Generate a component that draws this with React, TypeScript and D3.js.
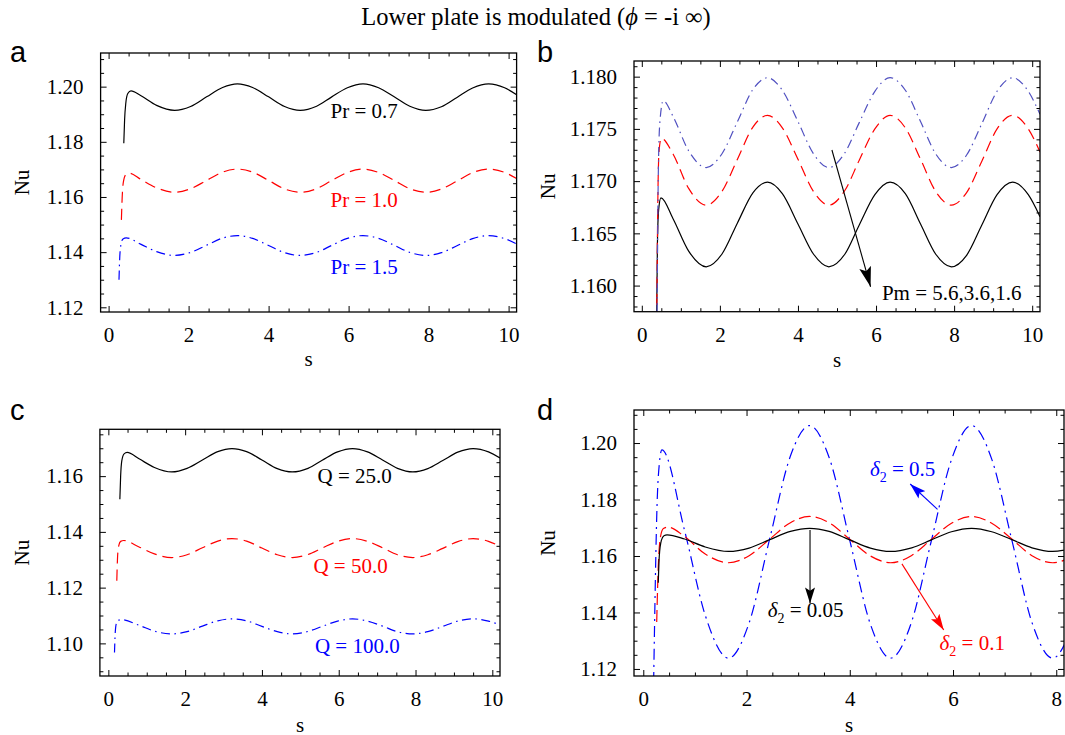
import React, {useEffect, useRef} from 'react';
import * as d3 from 'd3';

const SERIF = "'Liberation Serif', 'Times New Roman', Tinos, 'DejaVu Serif', serif";
const SANS = "'Liberation Sans', Arial, Helvetica, sans-serif";

// s positions shared by every curve once the start-up transient is over
const S_GRID = [0.8, 1.2, 1.65, 2.05, 2.45, 2.85, 3.22, 3.6, 4.0, 4.4, 4.79, 5.2, 5.57, 5.97, 6.36, 6.75, 7.14, 7.53, 7.93, 8.32, 8.71, 9.1, 9.5, 9.9, 10.2];

const X_TICKS_10 = [0, 2, 4, 6, 8, 10];
const X_TICKS_8 = [0, 2, 4, 6, 8];

// ---- panel a : Pr
const A_Y_TICKS = [1.12, 1.14, 1.16, 1.18, 1.20];
const A_PR07_HEAD_S = [0.38, 0.40, 0.43, 0.48, 0.56];
const A_PR07_HEAD_NU = [1.1795, 1.1880, 1.1940, 1.1975, 1.1985];
const A_PR07_NU = [1.1968, 1.1932, 1.1914, 1.1928, 1.1963, 1.1997, 1.2010, 1.1997, 1.1963, 1.1928, 1.1914, 1.1929, 1.1962, 1.1996, 1.2010, 1.1996, 1.1963, 1.1929, 1.1914, 1.1927, 1.1961, 1.1995, 1.2010, 1.1996, 1.1971];
const A_PR10_HEAD_S = [0.32, 0.34, 0.37, 0.43, 0.52];
const A_PR10_HEAD_NU = [1.1517, 1.1600, 1.1655, 1.1681, 1.1686];
const A_PR10_NU = [1.1664, 1.1633, 1.1617, 1.1630, 1.1660, 1.1690, 1.1701, 1.1690, 1.1660, 1.1629, 1.1617, 1.1630, 1.1659, 1.1689, 1.1701, 1.1689, 1.1660, 1.1630, 1.1617, 1.1629, 1.1658, 1.1688, 1.1701, 1.1689, 1.1667];
const A_PR15_HEAD_S = [0.26, 0.28, 0.31, 0.36, 0.44];
const A_PR15_HEAD_NU = [1.1300, 1.1385, 1.1428, 1.1448, 1.1452];
const A_PR15_NU = [1.1429, 1.1402, 1.1388, 1.1399, 1.1425, 1.1451, 1.1460, 1.1450, 1.1424, 1.1398, 1.1388, 1.1399, 1.1424, 1.1450, 1.1460, 1.1450, 1.1425, 1.1399, 1.1388, 1.1398, 1.1423, 1.1449, 1.1460, 1.1449, 1.1430];

// ---- panel b : Pm
const B_Y_TICKS = [1.160, 1.165, 1.170, 1.175, 1.180];
const B_PM56_HEAD_S = [0.38, 0.42, 0.46, 0.55];
const B_PM56_HEAD_NU = [1.1500, 1.1700, 1.1755, 1.1777];
const B_PM56_NU = [1.1762, 1.1729, 1.1713, 1.1726, 1.1757, 1.1788, 1.1799, 1.1787, 1.1757, 1.1726, 1.1713, 1.1727, 1.1756, 1.1786, 1.1799, 1.1787, 1.1757, 1.1726, 1.1713, 1.1725, 1.1755, 1.1786, 1.1799, 1.1786, 1.1764];
const B_PM36_HEAD_S = [0.37, 0.41, 0.44, 0.50];
const B_PM36_HEAD_NU = [1.1500, 1.1680, 1.1728, 1.1741];
const B_PM36_NU = [1.1726, 1.1693, 1.1677, 1.1690, 1.1721, 1.1752, 1.1763, 1.1751, 1.1721, 1.1690, 1.1677, 1.1691, 1.1720, 1.1750, 1.1763, 1.1751, 1.1721, 1.1690, 1.1677, 1.1689, 1.1719, 1.1750, 1.1763, 1.1750, 1.1728];
const B_PM16_HEAD_S = [0.36, 0.40, 0.43, 0.49];
const B_PM16_HEAD_NU = [1.1500, 1.1640, 1.1672, 1.1684];
const B_PM16_NU = [1.1664, 1.1633, 1.1618, 1.1630, 1.1660, 1.1689, 1.1699, 1.1688, 1.1659, 1.1630, 1.1618, 1.1630, 1.1658, 1.1687, 1.1699, 1.1688, 1.1659, 1.1630, 1.1618, 1.1629, 1.1658, 1.1687, 1.1699, 1.1687, 1.1666];

// ---- panel c : Q
const C_Y_TICKS = [1.10, 1.12, 1.14, 1.16];
const C_Q25_HEAD_S = [0.30, 0.32, 0.35, 0.41, 0.49];
const C_Q25_HEAD_NU = [1.1517, 1.1600, 1.1655, 1.1680, 1.1685];
const C_Q25_NU = [1.1662, 1.1631, 1.1615, 1.1628, 1.1658, 1.1688, 1.1699, 1.1688, 1.1658, 1.1627, 1.1615, 1.1628, 1.1657, 1.1687, 1.1699, 1.1687, 1.1658, 1.1628, 1.1615, 1.1627, 1.1656, 1.1686, 1.1699, 1.1687, 1.1665];
const C_Q50_HEAD_S = [0.22, 0.24, 0.27, 0.32, 0.40];
const C_Q50_HEAD_NU = [1.1225, 1.1310, 1.1350, 1.1366, 1.1369];
const C_Q50_NU = [1.1346, 1.1321, 1.1308, 1.1318, 1.1343, 1.1367, 1.1376, 1.1367, 1.1342, 1.1318, 1.1308, 1.1319, 1.1342, 1.1366, 1.1376, 1.1366, 1.1343, 1.1318, 1.1308, 1.1318, 1.1341, 1.1365, 1.1376, 1.1366, 1.1348];
const C_Q100_HEAD_S = [0.16, 0.18, 0.21, 0.26, 0.34];
const C_Q100_HEAD_NU = [1.0967, 1.1040, 1.1072, 1.1083, 1.1085];
const C_Q100_NU = [1.1065, 1.1044, 1.1034, 1.1042, 1.1062, 1.1081, 1.1088, 1.1081, 1.1061, 1.1042, 1.1034, 1.1043, 1.1061, 1.1080, 1.1088, 1.1080, 1.1062, 1.1042, 1.1034, 1.1042, 1.1061, 1.1080, 1.1088, 1.1080, 1.1066];

// ---- panel d : delta2
const D_Y_TICKS = [1.12, 1.14, 1.16, 1.18, 1.20];
const D_D005_HEAD_S = [0.29, 0.31, 0.35, 0.40, 0.46];
const D_D005_HEAD_NU = [1.1505, 1.1600, 1.1655, 1.1672, 1.1675];
const D_D005_NU = [1.1660, 1.1632, 1.1616, 1.1628, 1.1658, 1.1687, 1.1698, 1.1687, 1.1657, 1.1628, 1.1616, 1.1629, 1.1656, 1.1686, 1.1698, 1.1686, 1.1658, 1.1629, 1.1616, 1.1628];
const D_D01_HEAD_S = [0.26, 0.29, 0.33, 0.39, 0.48];
const D_D01_HEAD_NU = [1.1366, 1.1560, 1.1665, 1.1697, 1.1702];
const D_D01_NU = [1.1669, 1.1607, 1.1576, 1.1601, 1.1660, 1.1718, 1.1740, 1.1718, 1.1659, 1.1600, 1.1576, 1.1602, 1.1657, 1.1716, 1.1740, 1.1716, 1.1660, 1.1601, 1.1576, 1.1599];
const D_D05_HEAD_S = [0.20, 0.27, 0.31, 0.36];
const D_D05_HEAD_NU = [1.1150, 1.1800, 1.1925, 1.1976];
const D_D05_NU = [1.1690, 1.1390, 1.1238, 1.1363, 1.1662, 1.1954, 1.2062, 1.1949, 1.1655, 1.1358, 1.1238, 1.1368, 1.1646, 1.1941, 1.2062, 1.1943, 1.1656, 1.1364, 1.1238, 1.1355];

interface Pt { s: number; nu: number }
interface Curve { pts: Pt[]; color: string; dash: string | null }
interface Note { s: number; nu: number; color: string; text: string; delta?: boolean }
interface Arrow { from: [number, number]; to: [number, number]; color: string; len: number; half: number }
interface Panel {
  key: string;
  letter: string;
  letterPos: [number, number];
  box: { left: number; right: number; top: number; bottom: number };
  xDomain: [number, number];
  yDomain: [number, number];
  xTicks: number[];
  yTicks: number[];
  yMinor: number;
  yFmt: string;
  nuPos: [number, number];
  sPos: [number, number];
  curves: Curve[];
  notes: Note[];
  arrows: Arrow[];
}

const pts = (hs: number[], hn: number[], body: number[]): Pt[] => [
  ...hs.map((s, i) => ({s, nu: hn[i]})),
  ...body.map((nu, i) => ({s: S_GRID[i], nu})),
];

const RED = '#ff0000';
const BLUE = '#0000ff';
const DASH = '11,6';
const DASHDOT = '9,4.5,1.5,4.5';

const PANELS: Panel[] = [
  {
    key: 'a', letter: 'a', letterPos: [10, 62],
    box: {left: 100.6, right: 516.6, top: 53, bottom: 312},
    xDomain: [-0.2, 10.2], yDomain: [1.1183, 1.2122],
    xTicks: X_TICKS_10, yTicks: A_Y_TICKS, yMinor: 0.005, yFmt: '.2f',
    nuPos: [28.5, 182.5], sPos: [308.6, 366],
    curves: [
      {pts: pts(A_PR07_HEAD_S, A_PR07_HEAD_NU, A_PR07_NU), color: '#000', dash: null},
      {pts: pts(A_PR10_HEAD_S, A_PR10_HEAD_NU, A_PR10_NU), color: RED, dash: DASH},
      {pts: pts(A_PR15_HEAD_S, A_PR15_HEAD_NU, A_PR15_NU), color: BLUE, dash: DASHDOT},
    ],
    notes: [
      {s: 5.55, nu: 1.1885, color: '#000', text: 'Pr = 0.7'},
      {s: 5.55, nu: 1.1563, color: RED, text: 'Pr = 1.0'},
      {s: 5.55, nu: 1.1321, color: BLUE, text: 'Pr = 1.5'},
    ],
    arrows: [],
  },
  {
    key: 'b', letter: 'b', letterPos: [537, 62],
    box: {left: 634, right: 1040, top: 61, bottom: 311.7},
    xDomain: [-0.2, 10.2], yDomain: [1.1575, 1.1815],
    xTicks: X_TICKS_10, yTicks: B_Y_TICKS, yMinor: 0.001, yFmt: '.3f',
    nuPos: [555, 186.4], sPos: [837, 366.7],
    curves: [
      {pts: pts(B_PM16_HEAD_S, B_PM16_HEAD_NU, B_PM16_NU), color: '#000', dash: null},
      {pts: pts(B_PM36_HEAD_S, B_PM36_HEAD_NU, B_PM36_NU), color: RED, dash: DASH},
      {pts: pts(B_PM56_HEAD_S, B_PM56_HEAD_NU, B_PM56_NU), color: '#5050c0', dash: DASHDOT},
    ],
    notes: [{s: 6.15, nu: 1.1586, color: '#000', text: 'Pm = 5.6,3.6,1.6'}],
    arrows: [{from: [4.87, 1.17298], to: [5.86, 1.15989], color: '#000', len: 20, half: 6}],
  },
  {
    key: 'c', letter: 'c', letterPos: [10, 420],
    box: {left: 99.9, right: 500, top: 429.3, bottom: 676},
    xDomain: [-0.22, 10.2], yDomain: [1.0883, 1.1768],
    xTicks: X_TICKS_10, yTicks: C_Y_TICKS, yMinor: 0.005, yFmt: '.2f',
    nuPos: [28.5, 552.7], sPos: [300, 731.5],
    curves: [
      {pts: pts(C_Q25_HEAD_S, C_Q25_HEAD_NU, C_Q25_NU), color: '#000', dash: null},
      {pts: pts(C_Q50_HEAD_S, C_Q50_HEAD_NU, C_Q50_NU), color: RED, dash: DASH},
      {pts: pts(C_Q100_HEAD_S, C_Q100_HEAD_NU, C_Q100_NU), color: BLUE, dash: DASHDOT},
    ],
    notes: [
      {s: 5.45, nu: 1.1574, color: '#000', text: 'Q = 25.0'},
      {s: 5.34, nu: 1.1251, color: RED, text: 'Q = 50.0'},
      {s: 5.38, nu: 1.0967, color: BLUE, text: 'Q = 100.0'},
    ],
    arrows: [],
  },
  {
    key: 'd', letter: 'd', letterPos: [537, 420],
    box: {left: 634, right: 1064, top: 410, bottom: 676},
    xDomain: [-0.18, 8.15], yDomain: [1.1175, 1.2117],
    xTicks: X_TICKS_8, yTicks: D_Y_TICKS, yMinor: 0.005, yFmt: '.2f',
    nuPos: [555, 543], sPos: [849, 731.5],
    curves: [
      {pts: pts(D_D05_HEAD_S, D_D05_HEAD_NU, D_D05_NU), color: BLUE, dash: '11,5,2,5'},
      {pts: pts(D_D01_HEAD_S, D_D01_HEAD_NU, D_D01_NU), color: RED, dash: '12,5'},
      {pts: pts(D_D005_HEAD_S, D_D005_HEAD_NU, D_D005_NU), color: '#000', dash: null},
    ],
    notes: [
      {s: 4.39, nu: 1.1885, color: BLUE, text: ' = 0.5', delta: true},
      {s: 2.41, nu: 1.1385, color: '#000', text: ' = 0.05', delta: true},
      {s: 5.74, nu: 1.1268, color: RED, text: ' = 0.1', delta: true},
    ],
    arrows: [
      {from: [3.23, 1.1692], to: [3.23, 1.1432], color: '#000', len: 16, half: 5},
      {from: [5.01, 1.1572], to: [5.82, 1.1338], color: RED, len: 16, half: 5},
      {from: [5.70, 1.1765], to: [5.17, 1.1855], color: BLUE, len: 16, half: 5},
    ],
  },
];

const drawPanel = (root: d3.Selection<SVGSVGElement, unknown, null, undefined>, p: Panel) => {
  const {box} = p;
  const x = d3.scaleLinear().domain(p.xDomain).range([box.left, box.right]);
  const y = d3.scaleLinear().domain(p.yDomain).range([box.bottom, box.top]);
  const g = root.append('g');
  const defs = g.append('defs');

  defs.append('clipPath').attr('id', `clip-${p.key}`)
      .append('rect')
      .attr('x', box.left).attr('y', box.top)
      .attr('width', box.right - box.left).attr('height', box.bottom - box.top);

  // curves
  const line = d3.line<Pt>().x(d => x(d.s)).y(d => y(d.nu)).curve(d3.curveMonotoneX);
  g.append('g').attr('clip-path', `url(#clip-${p.key})`)
      .selectAll('path')
      .data(p.curves)
      .join('path')
      .attr('d', c => line(c.pts))
      .attr('fill', 'none')
      .attr('stroke', c => c.color)
      .attr('stroke-width', 1.2)
      .attr('stroke-dasharray', c => c.dash);

  // ticks (inward, on all four sides)
  const xMinor = d3.range(Math.ceil(p.xDomain[0] * 2), Math.floor(p.xDomain[1] * 2) + 1)
      .map(k => k / 2).filter(v => !p.xTicks.includes(v));
  const step = p.yMinor;
  const yMinor = d3.range(Math.ceil(p.yDomain[0] / step - 1e-6), Math.floor(p.yDomain[1] / step + 1e-6) + 1)
      .map(k => +(k * step).toFixed(4))
      .filter(v => !p.yTicks.some(t => Math.abs(t - v) < 1e-7));

  const style = (sel: d3.Selection<SVGGElement, unknown, null, undefined>) => {
    sel.attr('font-family', SERIF).attr('font-size', 21);
    sel.select('.domain').remove();
    sel.selectAll('line').attr('stroke', '#000').attr('stroke-width', 1);
    sel.selectAll('text').style('font-family', SERIF).attr('font-size', 21).attr('fill', '#000');
  };
  const none = () => '';

  g.append('g').attr('transform', `translate(0,${box.bottom})`)
      .call(d3.axisBottom(x).tickValues(p.xTicks).tickSize(-6).tickPadding(15).tickFormat(d3.format('d')))
      .call(style);
  g.append('g').attr('transform', `translate(0,${box.bottom})`)
      .call(d3.axisBottom(x).tickValues(xMinor).tickSize(-3.5).tickFormat(none)).call(style);
  g.append('g').attr('transform', `translate(0,${box.top})`)
      .call(d3.axisTop(x).tickValues(p.xTicks).tickSize(-6).tickFormat(none)).call(style);
  g.append('g').attr('transform', `translate(0,${box.top})`)
      .call(d3.axisTop(x).tickValues(xMinor).tickSize(-3.5).tickFormat(none)).call(style);

  g.append('g').attr('transform', `translate(${box.left},0)`)
      .call(d3.axisLeft(y).tickValues(p.yTicks).tickSize(-6).tickPadding(17).tickFormat(d3.format(p.yFmt)))
      .call(style);
  g.append('g').attr('transform', `translate(${box.left},0)`)
      .call(d3.axisLeft(y).tickValues(yMinor).tickSize(-3.5).tickFormat(none)).call(style);
  g.append('g').attr('transform', `translate(${box.right},0)`)
      .call(d3.axisRight(y).tickValues(p.yTicks).tickSize(-6).tickFormat(none)).call(style);
  g.append('g').attr('transform', `translate(${box.right},0)`)
      .call(d3.axisRight(y).tickValues(yMinor).tickSize(-3.5).tickFormat(none)).call(style);

  // frame
  g.append('rect')
      .attr('x', box.left).attr('y', box.top)
      .attr('width', box.right - box.left).attr('height', box.bottom - box.top)
      .attr('fill', 'none').attr('stroke', '#000').attr('stroke-width', 1.3);

  // arrows
  p.arrows.forEach((a, i) => {
    const id = `arrow-${p.key}-${i}`;
    defs.append('marker')
        .attr('id', id)
        .attr('markerUnits', 'userSpaceOnUse')
        .attr('markerWidth', a.len).attr('markerHeight', a.half * 2)
        .attr('refX', a.len).attr('refY', a.half)
        .attr('orient', 'auto')
        .append('path')
        .attr('d', `M0,0L${a.len},${a.half}L0,${a.half * 2}L${a.len * 0.2},${a.half}Z`)
        .attr('fill', a.color);
    g.append('line')
        .attr('x1', x(a.from[0])).attr('y1', y(a.from[1]))
        .attr('x2', x(a.to[0])).attr('y2', y(a.to[1]))
        .attr('stroke', a.color).attr('stroke-width', 1.1)
        .attr('marker-end', `url(#${id})`);
  });

  // curve labels
  p.notes.forEach(n => {
    const t = g.append('text')
        .attr('x', x(n.s)).attr('y', y(n.nu))
        .style('font-family', SERIF).attr('font-size', 21).attr('fill', n.color);
    if (n.delta) {
      t.append('tspan').attr('font-style', 'italic').text('δ');
      t.append('tspan').attr('font-size', 14).attr('dy', 6).text('2');
      t.append('tspan').attr('dy', -6).text(n.text);
    } else {
      t.text(n.text);
    }
  });

  // axis labels and panel letter
  g.append('text')
      .attr('transform', `translate(${p.nuPos[0]},${p.nuPos[1]}) rotate(-90)`)
      .attr('text-anchor', 'middle')
      .style('font-family', SERIF).attr('font-size', 21)
      .text('Nu');
  g.append('text')
      .attr('x', p.sPos[0]).attr('y', p.sPos[1])
      .attr('text-anchor', 'middle')
      .style('font-family', SERIF).attr('font-size', 21)
      .text('s');
  g.append('text')
      .attr('x', p.letterPos[0]).attr('y', p.letterPos[1])
      .style('font-family', SANS).attr('font-size', 29)
      .text(p.letter);
};

export default function App() {
  const ref = useRef<SVGSVGElement>(null);

  useEffect(() => {
    const svg = d3.select(ref.current!);
    svg.selectAll('*').remove();

    const title = svg.append('text')
        .attr('x', 536).attr('y', 25)
        .attr('text-anchor', 'middle')
        .style('font-family', SERIF).attr('font-size', 24.5);
    title.append('tspan').text('Lower plate is modulated (');
    title.append('tspan').attr('font-style', 'italic').text('ϕ');
    title.append('tspan').text(' = -i ∞)');

    PANELS.forEach(p => drawPanel(svg, p));
  }, []);

  return (
    <svg ref={ref} width={1065} height={735}
         style={{position: 'absolute', left: 0, top: 0, background: '#fff', fontFamily: SERIF}}/>
  );
}
